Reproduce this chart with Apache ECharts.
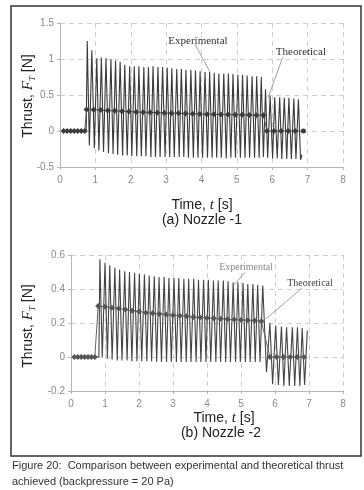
<!DOCTYPE html>
<html>
<head>
<meta charset="utf-8">
<script src="https://cdn.jsdelivr.net/npm/echarts@6/dist/echarts.min.js"></script>
<style>
html, body { margin: 0; padding: 0; background: #fff; }
#chart { width: 364px; height: 490px; }
</style>
</head>
<body>
<div id="chart"></div>
<script>
// (a) Nozzle -1 : experimental thrust, read peak by peak off the figure
let topStart = [[0.10, 0], [0.74, 0]];
let topPeakT = [0.77, 0.90, 1.04, 1.17, 1.30, 1.44, 1.57, 1.70, 1.83, 1.97, 2.10, 2.23, 2.37, 2.50, 2.63, 2.77, 2.90, 3.03, 3.16, 3.30,
  3.43, 3.56, 3.70, 3.83, 3.96, 4.10, 4.23, 4.36, 4.49, 4.63, 4.76, 4.89, 5.03, 5.16, 5.29, 5.43, 5.56, 5.69,
  5.81, 5.94, 6.07, 6.21, 6.34, 6.47, 6.61, 6.74];
let topPeakV = [1.25, 1.12, 1.01, 1.02, 1.01, 1.00, 0.98, 0.96, 0.92, 0.90, 0.90, 0.90, 0.89, 0.89, 0.90, 0.89, 0.89, 0.88, 0.87, 0.86,
  0.86, 0.85, 0.85, 0.84, 0.83, 0.82, 0.82, 0.81, 0.80, 0.80, 0.80, 0.79, 0.78, 0.78, 0.77, 0.76, 0.76, 0.75,
  0.58, 0.49, 0.47, 0.47, 0.46, 0.46, 0.45, 0.44];
let topTroughT = [0.83, 0.97, 1.10, 1.23, 1.37, 1.50, 1.63, 1.77, 1.90, 2.03, 2.17, 2.30, 2.43, 2.57, 2.70, 2.83, 2.97, 3.10, 3.23, 3.37,
  3.50, 3.63, 3.77, 3.90, 4.03, 4.17, 4.30, 4.43, 4.56, 4.70, 4.83, 4.96, 5.10, 5.23, 5.36, 5.50, 5.63, 5.75,
  5.87, 6.01, 6.14, 6.27, 6.41, 6.54, 6.67, 6.80];
let topTroughV = [-0.20, -0.24, -0.27, -0.29, -0.31, -0.32, -0.33, -0.34, -0.34, -0.35, -0.35, -0.35, -0.35, -0.36, -0.36, -0.36, -0.36, -0.36, -0.36, -0.36,
  -0.36, -0.37, -0.37, -0.37, -0.37, -0.37, -0.37, -0.37, -0.37, -0.38, -0.37, -0.37, -0.37, -0.37, -0.37, -0.37, -0.37, -0.36,
  -0.37, -0.38, -0.38, -0.39, -0.39, -0.39, -0.39, -0.40];
let topEnd = [[6.84, -0.33]];

// (a) theoretical thrust
let topTheoT = [0.1, 0.2, 0.3, 0.4, 0.5, 0.6, 0.7,
  0.75, 0.95, 1.15, 1.35, 1.55, 1.75, 1.95, 2.15, 2.35, 2.55, 2.75, 2.95, 3.15, 3.35, 3.55, 3.75, 3.95, 4.15, 4.35, 4.55, 4.75, 4.95, 5.15, 5.35, 5.55, 5.75,
  5.85, 6.05, 6.25, 6.45, 6.65, 6.88];
let topTheoV = [0, 0, 0, 0, 0, 0, 0,
  0.30, 0.295, 0.29, 0.285, 0.28, 0.275, 0.27, 0.265, 0.26, 0.258, 0.255, 0.25, 0.247, 0.245, 0.242, 0.24, 0.237, 0.234, 0.232, 0.23, 0.228, 0.226, 0.224, 0.222, 0.22, 0.218,
  0, 0, 0, 0, 0, 0];

// (b) Nozzle -2 : experimental thrust
let botStart = [[0.10, 0], [0.82, 0]];
let botPeakT = [0.85, 1.00, 1.14, 1.29, 1.43, 1.58, 1.72, 1.87, 2.01, 2.16, 2.30, 2.45, 2.59, 2.74, 2.88, 3.03, 3.17, 3.32, 3.46, 3.61,
  3.75, 3.90, 4.04, 4.19, 4.33, 4.48, 4.62, 4.77, 4.91, 5.06, 5.20, 5.35, 5.49, 5.64,
  5.85, 6.02, 6.19, 6.34, 6.51, 6.66, 6.80, 6.95];
let botPeakV = [0.575, 0.555, 0.54, 0.525, 0.515, 0.505, 0.50, 0.495, 0.49, 0.485, 0.48, 0.475, 0.47, 0.47, 0.465, 0.465, 0.465, 0.46, 0.46, 0.46,
  0.455, 0.455, 0.455, 0.45, 0.45, 0.45, 0.445, 0.44, 0.44, 0.435, 0.43, 0.43, 0.425, 0.42,
  0.20, 0.185, 0.18, 0.175, 0.175, 0.175, 0.17, 0.155];
let botTroughT = [0.92, 1.07, 1.21, 1.36, 1.50, 1.65, 1.79, 1.94, 2.08, 2.23, 2.37, 2.52, 2.66, 2.81, 2.95, 3.10, 3.24, 3.39, 3.53, 3.68,
  3.82, 3.97, 4.11, 4.26, 4.40, 4.55, 4.69, 4.84, 4.98, 5.13, 5.27, 5.42, 5.56, 5.75,
  5.93, 6.10, 6.26, 6.42, 6.58, 6.73, 6.87];
let botTroughV = [0.0, -0.01, -0.015, -0.02, -0.02, -0.02, -0.025, -0.025, -0.025, -0.025, -0.025, -0.03, -0.03, -0.03, -0.03, -0.03, -0.03, -0.03, -0.03, -0.03,
  -0.03, -0.03, -0.03, -0.03, -0.03, -0.03, -0.03, -0.03, -0.03, -0.03, -0.03, -0.03, -0.03, -0.09,
  -0.16, -0.165, -0.17, -0.17, -0.17, -0.17, -0.165];

// (b) theoretical thrust
let botTheoT = [0.1, 0.2, 0.3, 0.4, 0.5, 0.6, 0.7,
  0.8, 1.0, 1.2, 1.4, 1.6, 1.8, 2.0, 2.2, 2.4, 2.6, 2.8, 3.0, 3.2, 3.4, 3.6, 3.8, 4.0, 4.2, 4.4, 4.6, 4.8, 5.0, 5.2, 5.4, 5.6,
  5.85, 6.05, 6.25, 6.45, 6.65, 6.85];
let botTheoV = [0, 0, 0, 0, 0, 0, 0,
  0.30, 0.295, 0.29, 0.285, 0.28, 0.272, 0.268, 0.26, 0.257, 0.253, 0.25, 0.245, 0.243, 0.24, 0.235, 0.233, 0.23, 0.228, 0.225, 0.222, 0.22, 0.218, 0.216, 0.214, 0.21,
  0, 0, 0, 0, 0, 0];

let topYTicks = { min: -0.5, max: 1.5, interval: 0.5 };
let botYTicks = { min: -0.2, max: 0.6, interval: 0.2 };
let xTicks = { min: 0, max: 8, interval: 1 };

function zigzag(start, pt, pv, tt, tv, end) {
  let out = start.slice();
  for (let i = 0; i < pt.length; i++) {
    out.push([pt[i], pv[i]]);
    if (i < tt.length) out.push([tt[i], tv[i]]);
  }
  return out.concat(end);
}

function pairs(t, v) {
  return t.map((x, i) => [x, v[i]]);
}

let topExp = zigzag(topStart, topPeakT, topPeakV, topTroughT, topTroughV, topEnd);
let botExp = zigzag(botStart, botPeakT, botPeakV, botTroughT, botTroughV, []);
let topTheo = pairs(topTheoT, topTheoV);
topTheo[topTheo.length - 1] = { value: topTheo[topTheo.length - 1], symbol: 'circle', symbolSize: 5 };
let botTheo = pairs(botTheoT, botTheoV);

let myChart = echarts.init(document.getElementById('chart'));
const sans = 'Liberation Sans';
const serif = 'Liberation Serif';

function xAxisFor(gridIndex) {
  return {
    gridIndex: gridIndex,
    type: 'value',
    min: xTicks.min,
    max: xTicks.max,
    interval: xTicks.interval,
    axisLine: { onZero: false, lineStyle: { color: '#b5b5b5', width: 1 } },
    axisTick: { show: true, length: 3, lineStyle: { color: '#b5b5b5' } },
    axisLabel: { color: '#8a8a8a', fontSize: 10, fontFamily: sans, margin: 8 },
    splitLine: { show: true, lineStyle: { color: '#cfcfcf', type: [5, 4], width: 1 } },
  };
}

function yAxisFor(gridIndex, ticks) {
  return {
    gridIndex: gridIndex,
    type: 'value',
    min: ticks.min,
    max: ticks.max,
    interval: ticks.interval,
    axisLine: { show: true, lineStyle: { color: '#b5b5b5', width: 1 } },
    axisTick: { show: true, length: 3, lineStyle: { color: '#b5b5b5' } },
    axisLabel: { color: '#8a8a8a', fontSize: 10, fontFamily: sans, margin: 6 },
    splitLine: { show: true, lineStyle: { color: '#cfcfcf', type: [5, 4], width: 1 } },
  };
}

const titleRich = {
  a: { fontSize: 14, fontFamily: sans, fill: '#222', lineHeight: 18 },
  i: { fontSize: 15, fontFamily: serif, fontStyle: 'italic', fill: '#222', lineHeight: 18 },
  s: { fontSize: 9, fontFamily: serif, fontStyle: 'italic', fill: '#222', verticalAlign: 'bottom', lineHeight: 18, padding: [5, 0, 0, 0] },
};

function txt(x, y, text, extra) {
  return Object.assign({
    type: 'text',
    x: x,
    y: y,
    style: { text: text, fill: '#222', font: '14px ' + sans, align: 'center', verticalAlign: 'middle', rich: titleRich },
  }, extra || {});
}

let option = {
  animation: false,
  backgroundColor: '#fff',
  grid: [
    { left: 60, right: 21, top: 23, height: 144 },
    { left: 71, right: 21, top: 255, height: 136 },
  ],
  xAxis: [xAxisFor(0), xAxisFor(1)],
  yAxis: [yAxisFor(0, topYTicks), yAxisFor(1, botYTicks)],
  series: [
    {
      type: 'line', xAxisIndex: 0, yAxisIndex: 0, data: topExp, showSymbol: false, symbol: 'none',
      lineStyle: { color: '#3a3a3a', width: 1.1 }, z: 2,
    },
    {
      type: 'line', xAxisIndex: 0, yAxisIndex: 0, data: topTheo, symbol: 'diamond', symbolSize: 6,
      itemStyle: { color: '#3c3c3c' }, lineStyle: { color: '#555', width: 1 }, z: 3,
    },
    {
      type: 'line', xAxisIndex: 1, yAxisIndex: 1, data: botExp, showSymbol: false, symbol: 'none',
      lineStyle: { color: '#444', width: 1.1 }, z: 2,
    },
    {
      type: 'line', xAxisIndex: 1, yAxisIndex: 1, data: botTheo, symbol: 'diamond', symbolSize: 6,
      itemStyle: { color: '#555' }, lineStyle: { color: '#666', width: 1 }, z: 3,
    },
  ],
};

myChart.setOption(option);

// annotation anchors, in data units of each panel
function px(grid, t, v) {
  return myChart.convertToPixel({ gridIndex: grid }, [t, v]);
}

function label(grid, at, text, size, color) {
  let p = px(grid, at[0], at[1]);
  return {
    type: 'text', x: p[0], y: p[1], z: 10,
    style: { text: text, fill: color, font: size + 'px ' + serif, align: 'center', verticalAlign: 'middle' },
  };
}

function leader(grid, a, b) {
  let p1 = px(grid, a[0], a[1]);
  let p2 = px(grid, b[0], b[1]);
  return {
    type: 'line', z: 10,
    shape: { x1: p1[0], y1: p1[1], x2: p2[0], y2: p2[1] },
    style: { stroke: '#777', lineWidth: 0.7 },
  };
}

myChart.setOption({
  graphic: [
    { type: 'rect', shape: { x: 11, y: 6, width: 350, height: 450 }, style: { fill: 'none', stroke: '#333', lineWidth: 1.5 } },
    txt(28, 96, '{a|Thrust, }{i|F}{s|T}{a| [N]}', { rotation: Math.PI / 2 }),
    txt(202, 205, '{a|Time, }{i|t}{a| [s]}'),
    txt(202, 220, '{a|(a) Nozzle -1}'),
    txt(28, 326, '{a|Thrust, }{i|F}{s|T}{a| [N]}', { rotation: Math.PI / 2 }),
    txt(224, 418, '{a|Time, }{i|t}{a| [s]}'),
    txt(221, 433, '{a|(b) Nozzle -2}'),
    label(0, [3.9, 1.25], 'Experimental', 11, '#333'),
    leader(0, [3.81, 1.21], [4.24, 0.82]),
    label(0, [6.81, 1.10], 'Theoretical', 11, '#333'),
    leader(0, [6.3, 1.03], [5.88, 0.46]),
    label(1, [5.15, 0.527], 'Experimental', 10, '#888'),
    leader(1, [5.12, 0.498], [4.76, 0.417]),
    label(1, [7.03, 0.434], 'Theoretical', 10, '#444'),
    leader(1, [6.79, 0.405], [5.74, 0.225]),
    {
      type: 'text', x: 12, y: 458,
      style: {
        text: 'Figure 20:  Comparison between experimental and theoretical thrust\nachieved (backpressure = 20 Pa)',
        fill: '#333', font: '11px ' + sans, lineHeight: 16, align: 'left', verticalAlign: 'top',
      },
    },
  ],
});
</script>
</body>
</html>
